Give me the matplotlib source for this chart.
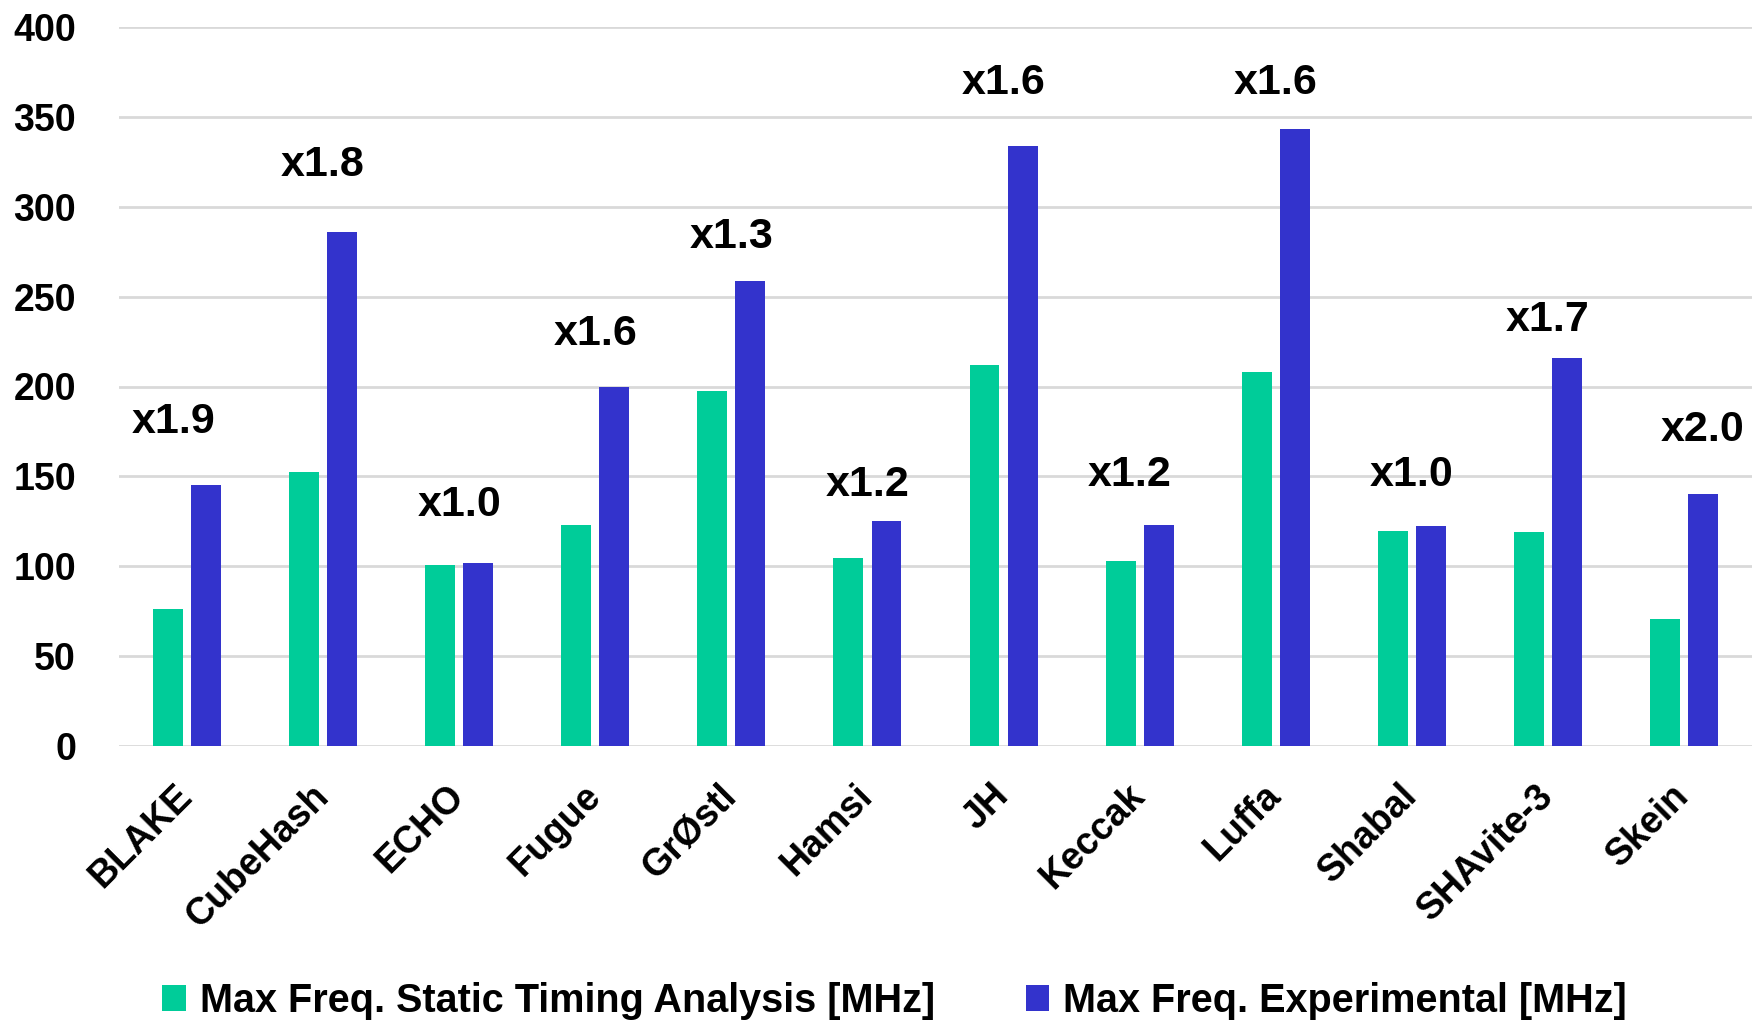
import numpy as np
import matplotlib.pyplot as plt

# Nama algoritma dan frekuensi maksimum (MHz)
algos = ["BLAKE", "CubeHash", "ECHO", "Fugue", "GrØstl", "Hamsi", "JH",
         "Keccak", "Luffa", "Shabal", "SHAvite-3", "Skein"]
sta = [76, 152.5, 100.5, 123, 197.5, 104.5, 212, 103, 208, 119.5, 119, 70.5]
exper = [145, 286, 102, 200, 258.5, 125, 334, 123, 343, 122.5, 216, 140]
ratios = ["x1.9", "x1.8", "x1.0", "x1.6", "x1.3", "x1.2", "x1.6",
          "x1.2", "x1.6", "x1.0", "x1.7", "x2.0"]
# posisi label rasio (y dalam MHz, geser x dalam satuan kategori)
ratio_y = [180, 323, 134, 229, 283, 145, 369, 151, 369, 151, 237, 176]
ratio_dx = [-0.1, 0, 0, 0, 0, 0, 0, -0.07, 0, 0, 0, 0.14]

plt.rcParams['font.family'] = ['Liberation Sans', 'DejaVu Sans']
plt.rcParams['font.weight'] = 'bold'

green = '#00CC99'
blue = '#3333CC'

fig = plt.figure(figsize=(17.54, 10.28), dpi=100)
ax = fig.add_axes([119/1754, 1 - 746/1028, (1752-119)/1754, (746-27)/1028])

x = np.arange(len(algos))
w = 0.22
ax.bar(x - 0.14, sta, w, color=green, label="Max Freq. Static Timing Analysis [MHz]", zorder=3)
ax.bar(x + 0.14, exper, w, color=blue, label="Max Freq. Experimental [MHz]", zorder=3)

for i in range(len(algos)):
    ax.text(x[i] + ratio_dx[i], ratio_y[i], ratios[i], ha='center', va='center',
            fontsize=31, fontweight='bold')

ax.set_xlim(-0.5, len(algos) - 0.5)
ax.set_ylim(0, 400)
ax.set_yticks(np.arange(0, 401, 50))
ax.yaxis.grid(True, color='#D9D9D9', linewidth=2, zorder=0)
ax.set_axisbelow(True)
for s in ax.spines.values():
    s.set_visible(False)
ax.tick_params(axis='both', length=0, labelsize=27)
ax.tick_params(axis='y', pad=31)
ax.set_xticks(x)
ax.set_xticklabels(algos, rotation=45, ha='right', va='center', rotation_mode='anchor')
ax.tick_params(axis='x', pad=32)

fig.legend(loc='center', bbox_to_anchor=(0.51, 1 - 1001/1028), ncol=2, frameon=False,
           fontsize=28.5, handlelength=0.6, handleheight=0.6, handletextpad=0.35,
           columnspacing=2.3)

fig.savefig("out.png", dpi=100)
